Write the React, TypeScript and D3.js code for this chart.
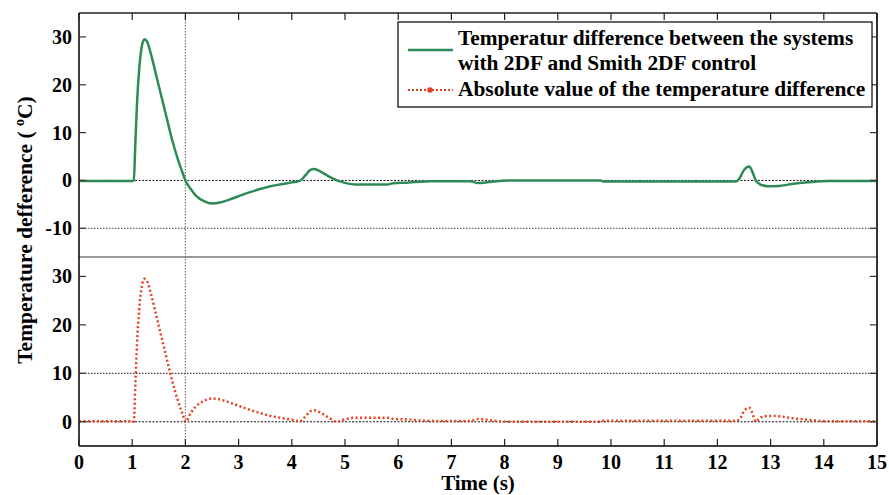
import React from "react";
import * as d3 from "d3";

const W = 889;
const H = 495;

const xTicks = [0, 1, 2, 3, 4, 5, 6, 7, 8, 9, 10, 11, 12, 13, 14, 15];
const yTopTicks = [30, 20, 10, 0, -10];
const yBotTicks = [30, 20, 10, 0];

const time = [
  0, 1.0, 1.03, 1.06, 1.09, 1.13, 1.18, 1.23, 1.28, 1.35, 1.45, 1.55, 1.65, 1.75, 1.85, 1.95, 2.0,
  2.1, 2.2, 2.35, 2.5, 2.65, 2.8, 3.0, 3.2, 3.4, 3.6, 3.8, 4.0, 4.15, 4.25, 4.35, 4.42, 4.55, 4.7,
  4.85, 5.0, 5.2, 5.8, 5.9, 6.2, 6.5, 7.35, 7.5, 7.6, 7.8, 8.1, 9.8, 9.85, 12.35, 12.42, 12.5, 12.6,
  12.65, 12.72, 12.8, 12.95, 13.15, 13.4, 13.7, 14.1, 15,
];

const tempDiff = [
  -0.1, -0.1, 0, 8, 16, 23, 28, 29.5, 29, 26.5, 22, 17.5, 13, 8.5, 4.7, 1.5, 0,
  -1.8, -3.2, -4.3, -4.8, -4.6, -4.1, -3.3, -2.5, -1.8, -1.2, -0.8, -0.4, -0.1, 1.0, 2.2, 2.4, 1.8, 0.8,
  0, -0.5, -0.85, -0.85, -0.6, -0.45, -0.2, -0.15, -0.55, -0.5, -0.2, 0, 0, -0.2, -0.2, 0.5, 2.2, 2.9,
  2.0, 0, -0.8, -1.2, -1.15, -0.75, -0.4, -0.1, -0.1,
];

const absDiff = [
  0.1, 0.1, 0, 8, 16, 23, 28, 29.5, 29, 26.5, 22, 17.5, 13, 8.5, 4.7, 1.5, 0,
  1.8, 3.2, 4.3, 4.8, 4.6, 4.1, 3.3, 2.5, 1.8, 1.2, 0.8, 0.4, 0.1, 1.0, 2.2, 2.4, 1.8, 0.8,
  0, 0.5, 0.85, 0.85, 0.6, 0.45, 0.2, 0.15, 0.55, 0.5, 0.2, 0, 0, 0.2, 0.2, 0.5, 2.2, 2.9,
  2.0, 0, 0.8, 1.2, 1.15, 0.75, 0.4, 0.1, 0.1,
];

const legendLines = [
  "Temperatur difference between the systems",
  "with 2DF and Smith 2DF control",
  "Absolute value of the temperature difference",
];

const GREEN = "#2e8b57";
const RED = "#e8401c";
const FONT = '"Liberation Serif", "Times New Roman", "DejaVu Serif", serif';
const T: React.CSSProperties = { fontFamily: FONT, fontWeight: 700 };

export default function App() {
  const left = 79;
  const right = 877;
  const topY = 13;
  const midY = 257;
  const botY = 446;

  const x = d3.scaleLinear().domain([0, 15]).range([left, right]);
  const yTop = d3.scaleLinear().domain([-16, 35]).range([midY, topY]);
  const yBot = d3.scaleLinear().domain([-5, 34]).range([botY, midY]);

  const topLine = d3
    .line<number>()
    .x((_, i) => x(time[i]))
    .y((d) => yTop(d))
    .curve(d3.curveMonotoneX);
  const botLine = d3
    .line<number>()
    .x((_, i) => x(time[i]))
    .y((d) => yBot(d))
    .curve(d3.curveMonotoneX);

  const tickLen = 7;

  return (
    <svg width={W} height={H} style={{ position: "absolute", left: 0, top: 0, background: "#fff" }}>
      <defs>
        <clipPath id="clipTop">
          <rect x={left} y={topY} width={right - left} height={midY - topY} />
        </clipPath>
        <clipPath id="clipBot">
          <rect x={left} y={midY} width={right - left} height={botY - midY} />
        </clipPath>
      </defs>
      <rect x={0} y={0} width={W} height={H} fill="#fff" />

      {/* grid / reference lines */}
      <line x1={x(2)} x2={x(2)} y1={topY} y2={botY} stroke="#777" strokeWidth={1.2} strokeDasharray="1.5,1.5" />
      <line x1={left} x2={right} y1={yTop(0)} y2={yTop(0)} stroke="#111" strokeWidth={1} strokeDasharray="2,1.5" />
      <line x1={left} x2={right} y1={yTop(-10)} y2={yTop(-10)} stroke="#666" strokeWidth={1.2} strokeDasharray="1.5,1.5" />
      <line x1={left} x2={right} y1={yBot(10)} y2={yBot(10)} stroke="#444" strokeWidth={1.2} strokeDasharray="1.5,1.5" />
      <line x1={left} x2={right} y1={yBot(0)} y2={yBot(0)} stroke="#111" strokeWidth={1} strokeDasharray="2,1.5" />

      {/* data */}
      <g clipPath="url(#clipTop)">
        <path d={topLine(tempDiff) || ""} fill="none" stroke={GREEN} strokeWidth={2.5} strokeLinejoin="round" />
      </g>
      <g clipPath="url(#clipBot)">
        <path d={botLine(absDiff) || ""} fill="none" stroke={RED} strokeWidth={2.5} strokeDasharray="2,2.5" />
      </g>

      {/* frame */}
      <line x1={left} x2={right} y1={midY} y2={midY} stroke="#777" strokeWidth={1.5} />
      <line x1={left} x2={right} y1={topY} y2={topY} stroke="#222" strokeWidth={1.5} />
      <line x1={left} x2={right} y1={botY} y2={botY} stroke="#000" strokeWidth={1.5} />
      <line x1={left} x2={left} y1={topY} y2={botY} stroke="#000" strokeWidth={1.5} />
      <line x1={right} x2={right} y1={topY} y2={botY} stroke="#333" strokeWidth={2} />

      {/* x ticks */}
      {xTicks.map((t) => (
        <g key={"xt" + t}>
          <line x1={x(t)} x2={x(t)} y1={topY} y2={topY + tickLen} stroke="#222" strokeWidth={1.2} />
          <line x1={x(t)} x2={x(t)} y1={botY} y2={botY - tickLen} stroke="#222" strokeWidth={1.2} />
          <text x={x(t)} y={469} textAnchor="middle" fontSize={20} style={T} fill="#000">
            {t}
          </text>
        </g>
      ))}

      {/* y ticks top */}
      {yTopTicks.map((v) => (
        <g key={"yt" + v}>
          <line x1={left} x2={left + tickLen} y1={yTop(v)} y2={yTop(v)} stroke="#333" strokeWidth={1.2} />
          <line x1={right} x2={right - tickLen} y1={yTop(v)} y2={yTop(v)} stroke="#333" strokeWidth={1.2} />
          <text x={72} y={yTop(v)} dy="0.35em" textAnchor="end" fontSize={20} style={T} fill="#000">
            {v}
          </text>
        </g>
      ))}

      {/* y ticks bottom */}
      {yBotTicks.map((v) => (
        <g key={"yb" + v}>
          <line x1={left} x2={left + tickLen} y1={yBot(v)} y2={yBot(v)} stroke="#333" strokeWidth={1.2} />
          <line x1={right} x2={right - tickLen} y1={yBot(v)} y2={yBot(v)} stroke="#333" strokeWidth={1.2} />
          <text x={72} y={yBot(v)} dy="0.35em" textAnchor="end" fontSize={20} style={T} fill="#000">
            {v}
          </text>
        </g>
      ))}

      {/* axis labels */}
      <text x={478} y={490} textAnchor="middle" fontSize={21} style={T} fill="#000">
        Time (s)
      </text>
      <text
        transform={`translate(32, 230) rotate(-90)`}
        textAnchor="middle"
        fontSize={21.5}
        style={T}
        fill="#000"
        xmlSpace="preserve"
      >
        {"Temperature defference ( "}
        <tspan fontSize={14} dy={-8}>o</tspan>
        <tspan dy={8}>C)</tspan>
      </text>

      {/* legend */}
      <rect x={398} y={22} width={474} height={85} fill="#fff" stroke="#000" strokeWidth={1.2} />
      <line x1={408} x2={453} y1={50} y2={50} stroke={GREEN} strokeWidth={2.5} />
      <line x1={408} x2={453} y1={90} y2={90} stroke={RED} strokeWidth={2.2} strokeDasharray="2,2" />
      <circle cx={430} cy={90} r={2.8} fill={RED} />
      {legendLines.map((s, i) => (
        <text key={s} x={458} y={[45, 70, 96][i]} fontSize={21.4} style={T} fill="#000">
          {s}
        </text>
      ))}
    </svg>
  );
}
